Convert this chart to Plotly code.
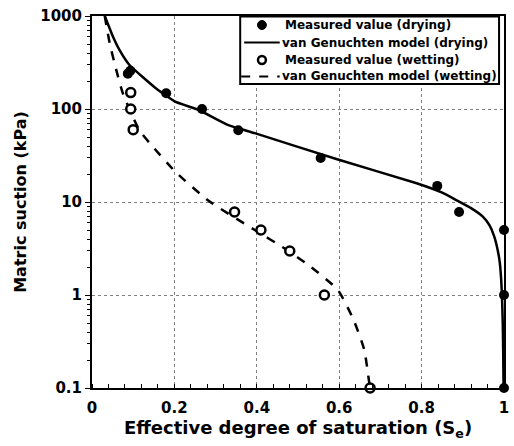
import plotly.graph_objects as go

# Measured data (drying)
dry_se = [0.087, 0.093, 0.18, 0.267, 0.355, 0.555, 0.838, 0.891, 1.0, 1.0, 1.0]
dry_s = [240, 258, 148, 100, 59, 29.7, 14.9, 7.8, 5, 1, 0.1]

# Measured data (wetting)
wet_se = [0.094, 0.094, 0.10, 0.346, 0.41, 0.48, 0.564, 0.675]
wet_s = [150, 100, 60, 7.8, 5, 2.97, 1.0, 0.1]

# van Genuchten model curves
vg_dry_se = [0.031, 0.051, 0.067, 0.091, 0.155, 0.202, 0.259, 0.331, 0.395, 0.595, 0.788,
             0.85, 0.884, 0.92, 0.948, 0.965, 0.976, 0.985, 0.990, 0.993, 0.995, 0.997, 0.998, 0.999]
vg_dry_s = [1000, 599, 430, 297, 167, 120, 97.5, 67, 55, 28.8, 15.9,
            12.6, 10.5, 8.6, 7.0, 5.6, 4.3, 3.0, 2.19, 1.5, 1.0, 0.5, 0.25, 0.1]

vg_wet_se = [0.031, 0.043, 0.059, 0.075, 0.115, 0.151, 0.202, 0.283, 0.395, 0.467, 0.531,
             0.597, 0.635, 0.661, 0.672, 0.675]
vg_wet_s = [1000, 508, 262, 147, 59, 37.8, 21.2, 10.3, 5.0, 3.18, 2.01,
            1.13, 0.54, 0.256, 0.122, 0.1]

x_ticks = [0, 0.2, 0.4, 0.6, 0.8, 1]
x_ticklabels = ["0", "0.2", "0.4", "0.6", "0.8", "1"]
y_ticks = [0.1, 1, 10, 100, 1000]
y_ticklabels = ["0.1", "1", "10", "100", "1000"]

legend_labels = ["Measured value (drying)", "van Genuchten model (drying)",
                 "Measured value (wetting)", "van Genuchten model (wetting)"]

FONT = "DejaVu Sans, Liberation Sans, Arial, sans-serif"

fig = go.Figure()
fig.add_trace(go.Scatter(x=vg_dry_se, y=vg_dry_s, mode="lines", name=legend_labels[1],
                         line=dict(color="black", width=2.5, shape="spline", smoothing=0.4)))
fig.add_trace(go.Scatter(x=vg_wet_se, y=vg_wet_s, mode="lines", name=legend_labels[3],
                         line=dict(color="black", width=2.5, dash="dash", shape="spline", smoothing=0.5)))
fig.add_trace(go.Scatter(x=dry_se, y=dry_s, mode="markers", name=legend_labels[0],
                         marker=dict(color="black", size=10, symbol="circle"), cliponaxis=False))
fig.add_trace(go.Scatter(x=wet_se, y=wet_s, mode="markers", name=legend_labels[2],
                         marker=dict(color="white", size=9, symbol="circle",
                                     line=dict(color="black", width=2.5)), cliponaxis=False))

# Manual legend box (plot area: x px 92..509, y px 16..388)
L, R, T, B = 92, 509, 16, 388
def px(x):
    return (x - L) / (R - L)
def py(y):
    return (B - y) / (B - T)

shapes = [dict(type="rect", xref="paper", yref="paper", x0=px(242), x1=px(504), y0=py(84), y1=py(16.5),
               line=dict(color="black", width=2), fillcolor="white", layer="above")]
rows = [25, 42.5, 60, 76.5]
# filled dot
shapes.append(dict(type="circle", xref="paper", yref="paper", x0=px(259.5), x1=px(268.5),
                   y0=py(rows[0] + 4.5), y1=py(rows[0] - 4.5), fillcolor="black",
                   line=dict(color="black", width=1), layer="above"))
# solid line
shapes.append(dict(type="line", xref="paper", yref="paper", x0=px(246), x1=px(282),
                   y0=py(rows[1]), y1=py(rows[1]), line=dict(color="black", width=2), layer="above"))
# open circle
shapes.append(dict(type="circle", xref="paper", yref="paper", x0=px(260), x1=px(268),
                   y0=py(rows[2] + 4), y1=py(rows[2] - 4), fillcolor="white",
                   line=dict(color="black", width=2.5), layer="above"))
# dashed line
shapes.append(dict(type="line", xref="paper", yref="paper", x0=px(243), x1=px(282),
                   y0=py(rows[3]), y1=py(rows[3]), line=dict(color="black", width=2, dash="dash"),
                   layer="above"))

annotations = []
text_x = [285, 282.5, 285, 282.5]
for lab, ry, tx in zip(legend_labels, rows, text_x):
    annotations.append(dict(xref="paper", yref="paper", x=px(tx), y=py(ry), text=lab,
                            showarrow=False, xanchor="left", yanchor="middle",
                            font=dict(family=FONT, size=12, color="black", weight="bold")))

fig.update_layout(
    width=514, height=446,
    margin=dict(l=92, r=5, t=16, b=58),
    plot_bgcolor="white", paper_bgcolor="white",
    font=dict(family=FONT, color="black"),
    showlegend=False,
    shapes=shapes,
    annotations=annotations,
    xaxis=dict(range=[0, 1], tickvals=x_ticks, ticktext=x_ticklabels,
               showgrid=True, gridcolor="#808080", griddash="dot", gridwidth=1,
               showline=True, linecolor="black", linewidth=2, mirror=True,
               ticks="outside", ticklen=5, tickcolor="rgba(0,0,0,0)", zeroline=False,
               minor=dict(dtick=0.04, ticks="inside", ticklen=4, tickcolor="black", showgrid=False),
               tickfont=dict(size=15, weight="bold"),
               title=dict(text="Effective degree of saturation (S<sub>e</sub>)",
                          font=dict(size=18, weight="bold"), standoff=3)),
    yaxis=dict(type="log", range=[-1, 3], tickvals=y_ticks, ticktext=y_ticklabels,
               showgrid=True, gridcolor="#808080", griddash="dot", gridwidth=1,
               showline=True, linecolor="black", linewidth=2, mirror=True,
               ticks="outside", ticklen=5, tickcolor="black", zeroline=False,
               minor=dict(dtick="D1", ticks="outside", ticklen=3, tickcolor="black", showgrid=False),
               tickfont=dict(size=15, weight="bold"),
               title=dict(text="Matric suction (kPa)", font=dict(size=16, weight="bold"), standoff=10)),
)

fig.write_html("out.html")
